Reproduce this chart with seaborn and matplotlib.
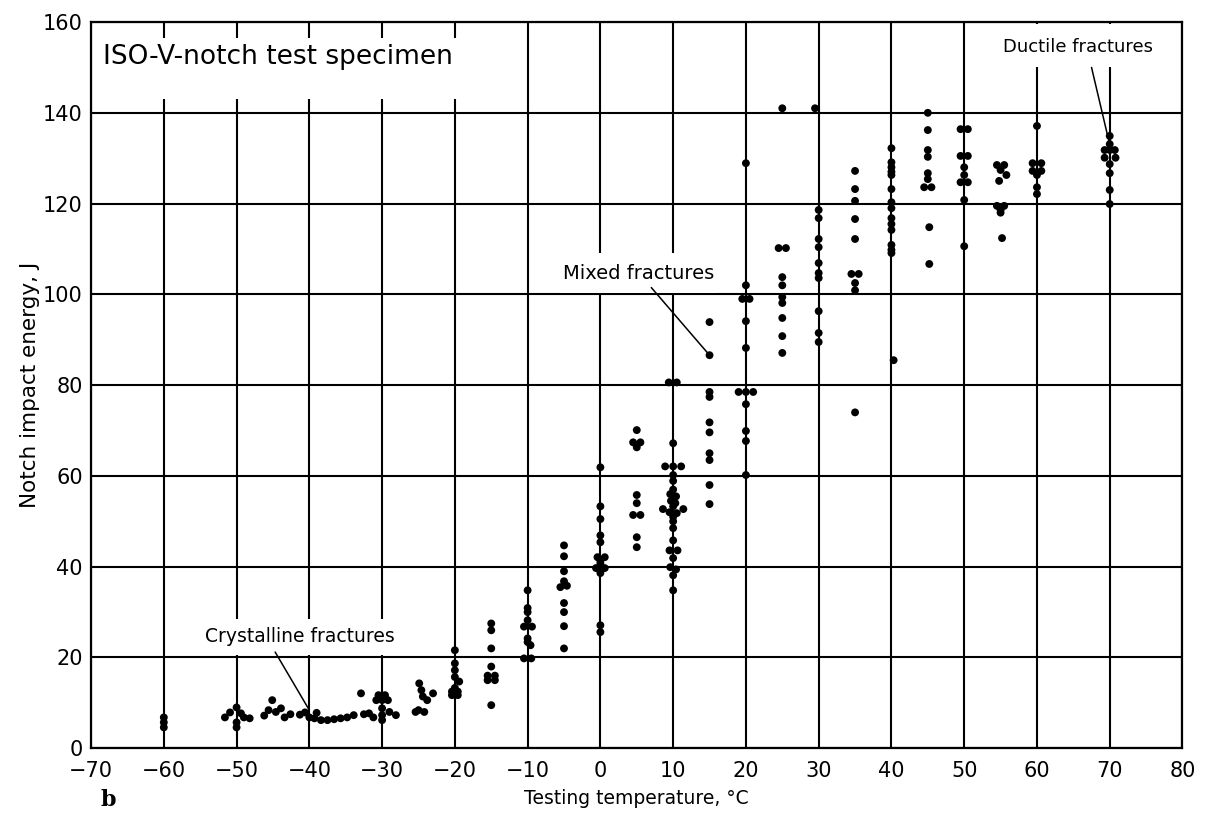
import numpy as np
import pandas as pd
import matplotlib
matplotlib.use("Agg")
import matplotlib.pyplot as plt
from matplotlib.patches import Rectangle
import seaborn as sns

# lower shelf, crystalline fractures (temperature, energy)
low_t = [-60, -60, -60,
         -51.6, -50.9, -50, -49.4, -49.0, -50, -50, -48.2,
         -45.1, -45.6, -44.6, -43.9, -43.4, -46.2, -42.6,
         -41.3, -40.6, -40.0, -39.3, -38.4, -37.5, -36.6, -35.7, -34.8, -33.9,
         -32.9, -32.5, -31.8, -31.2, -39.0,
         -30.5, -29.6, -30.0, -30.8, -29.2, -30, -30, -30, -29.0, -28.1,
         -24.9, -24.6, -24.4, -23.8, -23.0, -25.0, -24.2, -25.4,
         -20, -20, -20, -20, -19.4, -20.4, -19.6, -20.4, -19.6, -20]
low_e = [6.8, 5.7, 4.6,
         6.8, 7.9, 9.0, 7.7, 6.8, 5.7, 4.6, 6.6,
         10.6, 8.4, 8.0, 8.8, 6.8, 7.2, 7.5,
         7.4, 7.9, 6.8, 6.6, 6.2, 6.2, 6.4, 6.6, 6.8, 7.3,
         12.1, 7.5, 7.7, 6.8, 7.8,
         11.7, 11.7, 10.6, 10.6, 10.6, 8.8, 7.3, 6.2, 8.0, 7.3,
         14.3, 12.8, 11.4, 10.6, 12.1, 8.4, 8.0, 8.0,
         21.6, 18.7, 17.2, 15.7, 14.7, 12.5, 12.5, 11.7, 11.7, 13.3]

# transition range, mixed fractures
mid_t = [-15, -15, -15, -15, -15.5, -14.5, -15.5, -14.5, -15,
         -10, -10, -10, -10, -10.5, -9.4, -10, -10, -9.6, -10.5, -9.5,
         -5, -5, -5, -5, -5.5, -4.6, -5, -5, -5, -5,
         0, 0, 0, 0, 0, -0.4, 0.6, 0, 0, -0.6, 0.6, 0, 0, 0,
         5, 4.5, 5.5, 5, 5, 5, 4.5, 5.5, 5, 5,
         9.4, 10.5, 10, 8.9, 10, 11.1, 10, 10, 10, 9.6, 10.4, 9.7, 10.3, 10,
         8.6, 11.4, 9.5, 10.5, 10, 10, 10, 10, 9.5, 10.6, 10, 9.6, 10.4, 10, 10,
         15, 15, 15, 15, 15, 15, 15, 15, 15, 15,
         20, 20, 19.5, 20.5, 20, 20, 19.0, 20, 21.0, 20, 20, 20, 20]
mid_e = [27.5, 26.0, 22.0, 18.0, 16.0, 16.0, 15.0, 15.0, 9.5,
         34.8, 30.9, 30.0, 28.2, 26.8, 26.8, 24.2, 23.4, 22.7, 19.8, 19.8,
         44.7, 42.3, 39.0, 36.8, 35.5, 35.8, 32.0, 30.0, 26.9, 22.0,
         61.9, 53.3, 50.5, 46.9, 45.4, 42.1, 42.1, 41.4, 40.8, 39.7, 39.7, 38.6, 27.1, 25.6,
         70.1, 67.4, 67.4, 66.3, 55.8, 54.0, 51.4, 51.4, 46.5, 44.3,
         80.6, 80.6, 67.2, 62.1, 62.1, 62.1, 60.2, 58.9, 57.0, 56.0, 55.5, 54.5, 54.0, 53.3,
         52.7, 52.7, 52.0, 51.8, 51.0, 50.0, 48.5, 45.8, 43.6, 43.6, 41.9, 39.9, 39.4, 38.1, 34.8,
         93.9, 86.6, 78.5, 77.4, 71.8, 69.6, 65.0, 63.5, 58.0, 53.8,
         128.9, 102.0, 99.0, 99.0, 94.1, 88.2, 78.5, 78.5, 78.5, 75.8, 69.9, 67.7, 60.2]

# upper shelf, ductile fractures
high_t = [25, 24.5, 25.5, 25, 25, 25, 25, 25, 25, 25,
          29.5, 30, 30, 30, 30, 30, 30, 30, 30, 30, 30,
          35, 35, 35, 35, 35, 34.5, 35.5, 35, 35, 35,
          40, 40, 40, 40, 40, 40, 40, 40, 40, 40, 40, 40, 40, 40, 40.3,
          45, 45, 45, 45, 45, 45, 44.5, 45.5, 45.2, 45.2,
          49.5, 50.5, 49.5, 50.5, 50, 50, 49.5, 50.5, 50, 50,
          54.5, 55.5, 55, 55.8, 54.8, 54.5, 55, 55.5, 55, 55.2,
          60, 59.4, 60.6, 59.4, 60.6, 60, 60, 60,
          70, 70, 69.3, 70, 70.7, 69.3, 70.8, 70, 70, 70, 70]
high_e = [141.0, 110.2, 110.2, 103.8, 102.0, 99.4, 98.1, 94.8, 90.8, 87.1,
          141.0, 118.6, 116.8, 112.2, 110.4, 106.9, 104.7, 103.6, 96.3, 91.5, 89.5,
          127.2, 123.2, 120.6, 116.6, 112.2, 104.5, 104.5, 102.5, 100.9, 74.0,
          132.2, 129.1, 128.0, 127.0, 126.3, 123.2, 120.3, 119.0, 116.8, 115.5, 114.2,
          110.9, 109.8, 109.1, 85.5,
          140.0, 136.2, 131.8, 130.3, 126.7, 125.4, 123.6, 123.6, 114.8, 106.7,
          136.4, 136.4, 130.5, 130.5, 128.0, 126.3, 124.7, 124.7, 120.8, 110.6,
          128.5, 128.5, 127.4, 126.3, 125.0, 119.5, 118.6, 119.5, 118.0, 112.4,
          137.1, 128.9, 128.9, 127.2, 127.2, 126.3, 123.6, 122.1,
          134.9, 133.1, 131.8, 131.8, 131.8, 130.1, 130.1, 128.7, 126.7, 123.0, 119.9]

x_ticks = list(range(-70, 81, 10))
y_ticks = list(range(0, 161, 20))

df = pd.DataFrame({
    "temp": low_t + mid_t + high_t,
    "energy": low_e + mid_e + high_e,
})

sns.set_style("white")
plt.rcParams["font.family"] = ["DejaVu Sans"]
plt.rcParams["text.color"] = "black"
plt.rcParams["axes.labelcolor"] = "black"

fig = plt.figure(figsize=(12.06, 8.16), dpi=100)
ax = fig.add_axes([0.0755, 0.083, 0.905, 0.89])

ax.set_xlim(-70, 80)
ax.set_ylim(0, 160)
ax.set_xticks(x_ticks)
ax.set_yticks(y_ticks)
ax.grid(True, color="black", linewidth=1.5)
ax.set_axisbelow(True)
for sp in ax.spines.values():
    sp.set_color("black")
    sp.set_linewidth(1.6)
ax.tick_params(length=0, labelsize=15, colors="black")
ax.tick_params(axis="x", pad=9)
ax.tick_params(axis="y", pad=6)

sns.scatterplot(data=df, x="temp", y="energy", color="black", s=32,
                edgecolor="none", ax=ax, zorder=3)

ax.set_xlabel("Testing temperature, °C", fontsize=13.5, labelpad=6)
ax.set_ylabel("Notch impact energy, J", fontsize=15.5, labelpad=2)

# white masks behind the labels (grid lines are interrupted there)
masks = [(-66, 143, 51, 13.5), (53.5, 150, 24.5, 9.5), (-5.5, 100.3, 21.5, 8.8),
         (-55.5, 20.6, 28.5, 7.8)]
for mx, my, mw, mh in masks:
    ax.add_patch(Rectangle((mx, my), mw, mh, facecolor="white", edgecolor="none", zorder=2.5))

ax.text(-44.3, 152.2, "ISO-V-notch test specimen", fontsize=19,
        ha="center", va="center", zorder=4)
ax.text(65.7, 154.6, "Ductile fractures", fontsize=13,
        ha="center", va="center", zorder=4)
ax.text(5.2, 104.6, "Mixed fractures", fontsize=14,
        ha="center", va="center", zorder=4)
ax.text(-41.3, 24.6, "Crystalline fractures", fontsize=13.5,
        ha="center", va="center", zorder=4)

# leader lines to the annotated points
ax.plot([67.5, 70.0], [150.0, 133.0], color="black", lw=1.1, zorder=5)
ax.plot([7.0, 15.0], [101.5, 86.6], color="black", lw=1.1, zorder=5)
ax.plot([-44.7, -40.0], [21.2, 8.4], color="black", lw=1.1, zorder=5)

fig.text(0.083, 0.012, "b", fontsize=16, fontweight="bold", family="DejaVu Serif")

fig.savefig("out.png", dpi=100)
